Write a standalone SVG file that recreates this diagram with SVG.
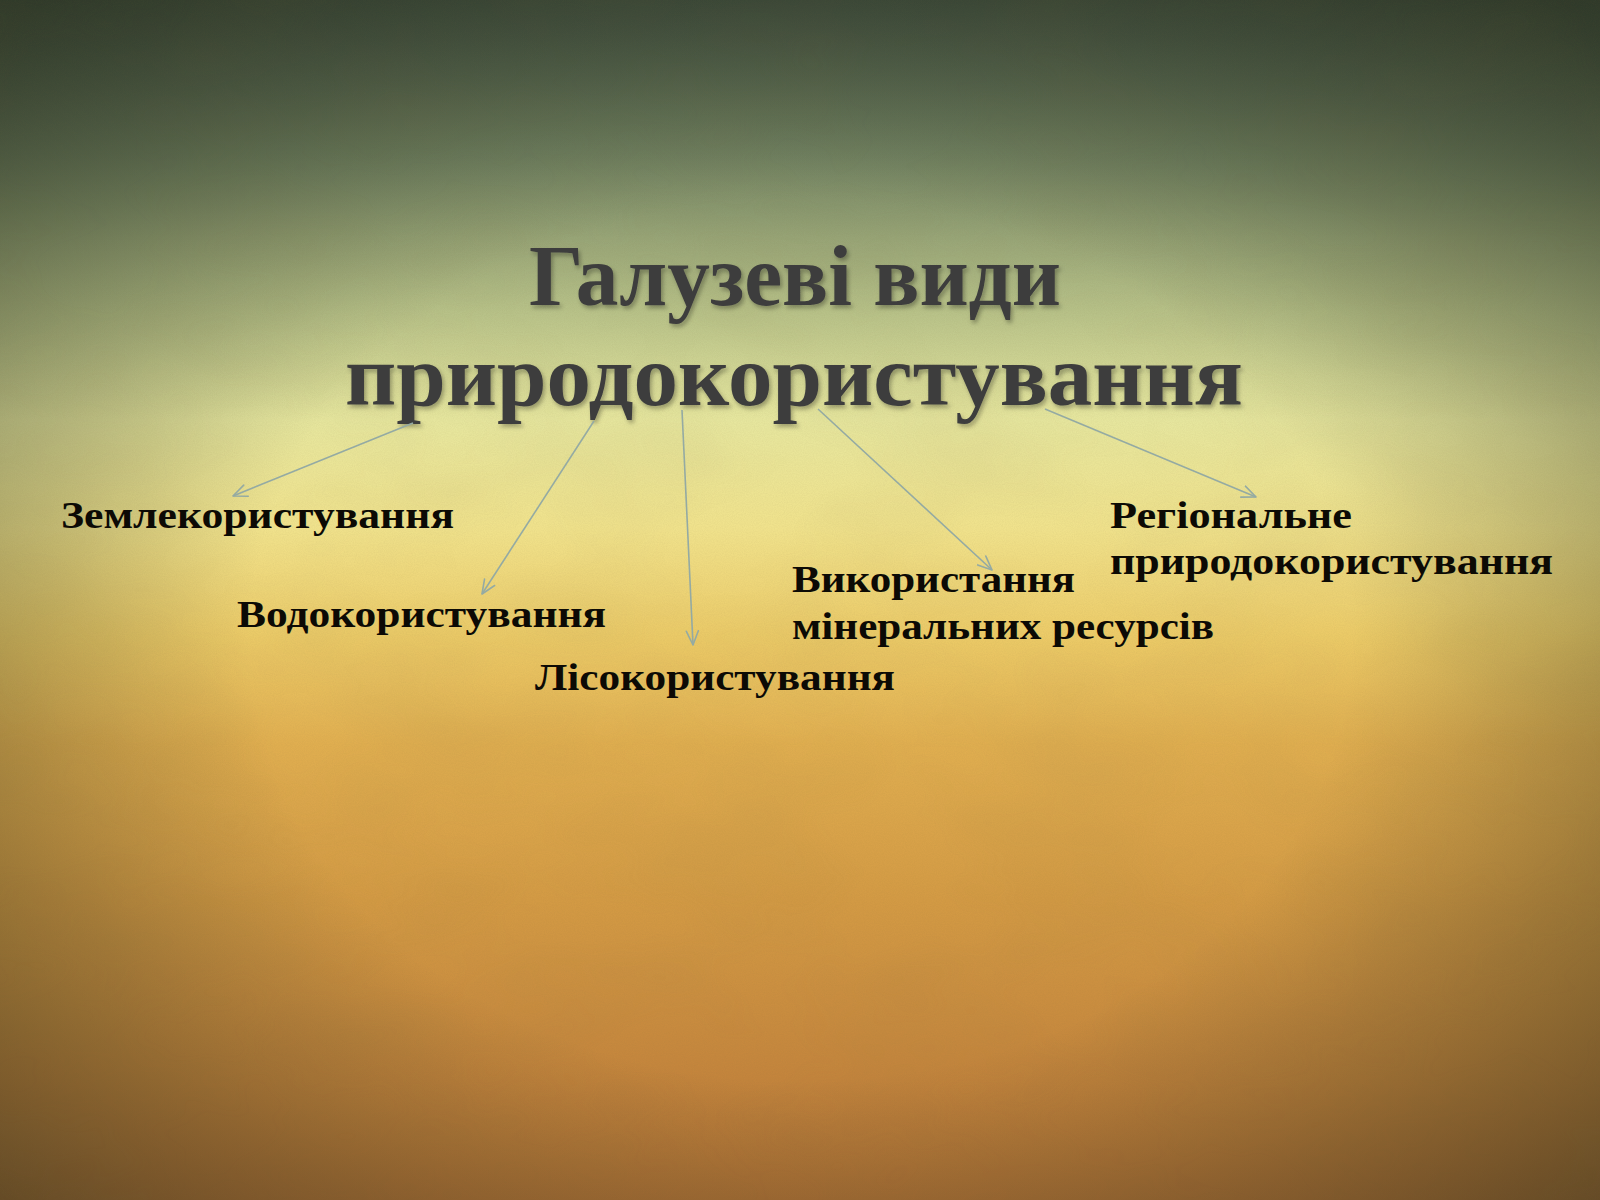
<svg xmlns="http://www.w3.org/2000/svg" width="1600" height="1200" viewBox="0 0 1600 1200">
  <defs>
    <linearGradient id="bgV" x1="0" y1="0" x2="0" y2="1">
      <stop offset="0" stop-color="#5e6e56"/>
      <stop offset="0.13" stop-color="#8a9c74"/>
      <stop offset="0.26" stop-color="#c3cd90"/>
      <stop offset="0.35" stop-color="#e6e69e"/>
      <stop offset="0.44" stop-color="#f0e28c"/>
      <stop offset="0.53" stop-color="#eccb68"/>
      <stop offset="0.62" stop-color="#e0ae50"/>
      <stop offset="0.75" stop-color="#d39a44"/>
      <stop offset="0.9" stop-color="#c3843c"/>
      <stop offset="1" stop-color="#b07236"/>
    </linearGradient>
    <radialGradient id="vig" cx="800" cy="640" r="1100" gradientUnits="userSpaceOnUse" gradientTransform="translate(800 640) scale(1 0.8) translate(-800 -640)">
      <stop offset="0" stop-color="#1d2416" stop-opacity="0"/>
      <stop offset="0.5" stop-color="#1d2416" stop-opacity="0"/>
      <stop offset="0.75" stop-color="#1d2416" stop-opacity="0.28"/>
      <stop offset="1" stop-color="#1d2416" stop-opacity="0.55"/>
    </radialGradient>
    <linearGradient id="topDark" x1="0" y1="0" x2="0" y2="1">
      <stop offset="0" stop-color="#26332a" stop-opacity="0.45"/>
      <stop offset="0.2" stop-color="#26332a" stop-opacity="0.12"/>
      <stop offset="0.35" stop-color="#26332a" stop-opacity="0"/>
      <stop offset="1" stop-color="#26332a" stop-opacity="0"/>
    </linearGradient>
    <filter id="grain" x="0" y="0" width="100%" height="100%">
      <feTurbulence type="fractalNoise" baseFrequency="0.9" numOctaves="2" seed="3" result="t"/>
      <feColorMatrix in="t" type="matrix" values="0 0 0 0 0.2  0 0 0 0 0.15  0 0 0 0 0.05  0 0 0 0.35 -0.1"/>
    </filter>
    <filter id="mottle" x="0" y="0" width="100%" height="100%">
      <feTurbulence type="fractalNoise" baseFrequency="0.006 0.01" numOctaves="3" seed="11" result="t"/>
      <feColorMatrix in="t" type="matrix" values="0 0 0 0 0.2  0 0 0 0 0.15  0 0 0 0 0.05  0 0 0 0.35 -0.12"/>
    </filter>
    <filter id="shadow" x="-5%" y="-20%" width="110%" height="140%">
      <feDropShadow dx="2" dy="3" stdDeviation="2" flood-color="#000" flood-opacity="0.3"/>
    </filter>
    <marker id="arr" viewBox="0 0 16 16" refX="15" refY="8" markerWidth="16" markerHeight="16" markerUnits="userSpaceOnUse" orient="auto">
      <path d="M1,2 L15,8 L1,14" fill="none" stroke="#94aaa3" stroke-width="1.6" stroke-linecap="round" stroke-linejoin="round"/>
    </marker>
    <style>
      .title { font-family: "Liberation Serif", "DejaVu Serif", serif; font-weight: bold; font-size: 86px; fill: #3d3d3d; }
      .lbl { font-family: "Liberation Serif", "DejaVu Serif", serif; font-weight: bold; font-size: 38px; fill: #0c0a05; }
      .conn { fill: none; stroke: #94aaa3; stroke-width: 1.6; marker-end: url(#arr); }
    </style>
  </defs>

  <g id="background">
    <rect width="1600" height="1200" fill="url(#bgV)"/>
    <rect width="1600" height="1200" fill="url(#topDark)"/>
    <rect width="1600" height="1200" fill="url(#vig)"/>
    <rect width="1600" height="1200" filter="url(#mottle)" opacity="0.35"/>
    <rect width="1600" height="1200" filter="url(#grain)" opacity="0.3"/>
  </g>

  <g id="title" filter="url(#shadow)">
    <text class="title" x="529" y="305" textLength="532" lengthAdjust="spacingAndGlyphs">Галузеві види</text>
    <text class="title" x="345" y="405" textLength="898" lengthAdjust="spacingAndGlyphs">природокористування</text>
  </g>

  <g id="connectors">
    <line class="conn" x1="413" y1="423" x2="233" y2="496"/>
    <line class="conn" x1="594" y1="421" x2="482" y2="594"/>
    <line class="conn" x1="682" y1="410" x2="693" y2="645"/>
    <line class="conn" x1="818" y1="409" x2="992" y2="570"/>
    <line class="conn" x1="1045" y1="409" x2="1256" y2="497"/>
  </g>

  <g id="node-zemle">
    <text class="lbl" x="61" y="528" textLength="393" lengthAdjust="spacingAndGlyphs">Землекористування</text>
  </g>
  <g id="node-vodo">
    <text class="lbl" x="237" y="627" textLength="369" lengthAdjust="spacingAndGlyphs">Водокористування</text>
  </g>
  <g id="node-liso">
    <text class="lbl" x="535" y="690" textLength="360" lengthAdjust="spacingAndGlyphs">Лісокористування</text>
  </g>
  <g id="node-miner">
    <text class="lbl" x="792" y="592" textLength="283" lengthAdjust="spacingAndGlyphs">Використання</text>
    <text class="lbl" x="792" y="639" textLength="422" lengthAdjust="spacingAndGlyphs">мінеральних ресурсів</text>
  </g>
  <g id="node-region">
    <text class="lbl" x="1110" y="528" textLength="242" lengthAdjust="spacingAndGlyphs">Регіональне</text>
    <text class="lbl" x="1110" y="574" textLength="443" lengthAdjust="spacingAndGlyphs">природокористування</text>
  </g>
</svg>
